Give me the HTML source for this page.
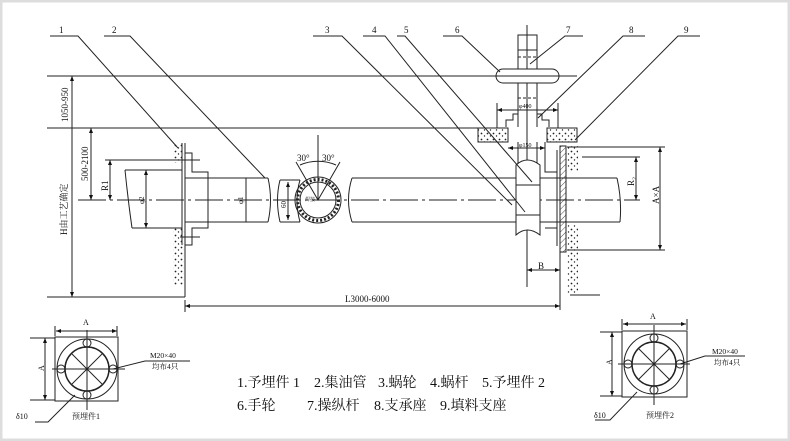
<!DOCTYPE html>
<html><head><meta charset="utf-8"><style>
html,body{margin:0;padding:0;background:#fff}
svg{display:block}
text{font-family:"Liberation Serif","Noto Serif CJK SC",serif;fill:#111}
</style></head><body>
<svg width="790" height="441" viewBox="0 0 790 441" xmlns="http://www.w3.org/2000/svg">
<defs>
<pattern id="dots" width="6" height="6" patternUnits="userSpaceOnUse"><circle cx="1.5" cy="1.5" r="0.9" fill="#222"/><circle cx="4.5" cy="4" r="0.7" fill="#222"/></pattern>
<pattern id="hat" width="4" height="4" patternUnits="userSpaceOnUse" patternTransform="rotate(45)"><line x1="0" y1="0" x2="0" y2="4" stroke="#222" stroke-width="0.8"/></pattern>
<marker id="a" markerWidth="6" markerHeight="6" refX="5" refY="3" orient="auto-start-reverse"><path d="M0,1 L5,3 L0,5z" fill="#111"/></marker>
</defs>
<rect x="1" y="1" width="788" height="439" fill="#fff" stroke="#ddd" stroke-width="3"/>
<g stroke="#222" stroke-width="1" fill="none">
<!-- horizontal references -->
<line x1="47" y1="76" x2="577" y2="76"/>
<line x1="47" y1="128" x2="478" y2="128"/>
<line x1="47" y1="297" x2="185" y2="297"/>
<line x1="78" y1="200" x2="640" y2="200" stroke-dasharray="28,4,3,4"/>
<!-- left dims -->
<line x1="72" y1="76" x2="72" y2="297" marker-start="url(#a)" marker-end="url(#a)"/>
<line x1="91" y1="128" x2="91" y2="200" marker-start="url(#a)" marker-end="url(#a)"/>
<line x1="110" y1="160" x2="110" y2="200" marker-start="url(#a)" marker-end="url(#a)"/>
<line x1="105" y1="160" x2="200" y2="160"/>
<line x1="180" y1="237" x2="200" y2="237"/>
<!-- left wall -->
<rect x="173" y="143" width="11" height="20" fill="url(#dots)" stroke="none"/>
<rect x="173" y="228" width="11" height="57" fill="url(#dots)" stroke="none"/>
<line x1="185" y1="143" x2="185" y2="297"/>
<line x1="182" y1="143" x2="182" y2="245"/>
<path d="M185,153 H192 V172 H208 V228 H192 V245 H185"/>
<!-- phi2 pipe -->
<path d="M125,170 H182 M132,228 H182 M125,170 Q128,200 132,228"/>
<line x1="146" y1="170" x2="146" y2="228" marker-start="url(#a)" marker-end="url(#a)"/>
<!-- phi1 pipe -->
<path d="M185,178 H268 M185,222 H268 M268,178 Q273,200 268,222"/>
<line x1="246" y1="178" x2="246" y2="222"/>
<path d="M280,180 H300 M280,222 H300 M280,180 Q275,200 280,222 M300,180 Q294,200 300,222"/>
<line x1="288" y1="182" x2="288" y2="220" marker-start="url(#a)" marker-end="url(#a)"/>
<!-- ring -->
<circle cx="318" cy="200" r="23"/>
<circle cx="318" cy="200" r="18"/>
<circle cx="318" cy="200" r="20.5" stroke-dasharray="2,2" stroke-width="3"/>
<path d="M296,162 L318,200 L340,162"/>
<line x1="318" y1="135" x2="318" y2="200"/>
<path d="M300,165 A45,45 0 0 1 336,165"/>
<!-- right pipe -->
<path d="M352,178 H617 M352,222 H620 M352,178 Q345,200 352,222 M617,178 Q622,200 620,222"/>
<!-- shaft and wheel -->
<line x1="527" y1="25" x2="527" y2="287"/>
<rect x="518" y="35" width="19" height="15"/>
<line x1="518" y1="50" x2="518" y2="127"/><line x1="537" y1="50" x2="537" y2="127"/>
<line x1="518" y1="57" x2="537" y2="57" stroke-dasharray="3,2"/>
<line x1="518" y1="98" x2="537" y2="98" stroke-dasharray="3,2"/>
<rect x="496" y="69" width="63" height="14" rx="7" fill="#fff"/>
<line x1="496" y1="76" x2="559" y2="76"/>
<line x1="497" y1="110" x2="558" y2="110" marker-start="url(#a)" marker-end="url(#a)"/>
<line x1="497" y1="103" x2="497" y2="128"/><line x1="558" y1="103" x2="558" y2="128"/>
<path d="M506,127 V120 H513 V114 H518 M549,127 V120 H542 V114 H537"/>
<rect x="478" y="128" width="30" height="14" fill="url(#dots)"/>
<rect x="547" y="128" width="30" height="14" fill="url(#dots)"/>
<line x1="518" y1="142" x2="518" y2="165"/><line x1="537" y1="142" x2="537" y2="165"/>
<line x1="508" y1="148" x2="545" y2="148" marker-start="url(#a)" marker-end="url(#a)"/>
<path d="M516,165 Q527,155 540,165 V235 Q527,225 516,235 Z" fill="#fff"/>
<line x1="516" y1="185" x2="540" y2="185"/><line x1="516" y1="215" x2="540" y2="215"/>
<!-- right wall -->
<path d="M545,142 V172 H557 M545,228 H557 V246"/>
<rect x="560" y="146" width="6" height="106" fill="url(#hat)"/>
<line x1="557" y1="150" x2="557" y2="246"/>
<rect x="567" y="146" width="11" height="25" fill="url(#dots)" stroke="none"/>
<rect x="567" y="225" width="11" height="70" fill="url(#dots)" stroke="none"/>
<line x1="560" y1="252" x2="560" y2="310"/>
<line x1="567" y1="147" x2="665" y2="147"/>
<line x1="582" y1="157" x2="640" y2="157"/>
<line x1="567" y1="250" x2="665" y2="250"/>
<line x1="570" y1="295" x2="600" y2="295"/>
<line x1="660" y1="147" x2="660" y2="250" marker-start="url(#a)" marker-end="url(#a)"/>
<line x1="636" y1="157" x2="636" y2="200" marker-start="url(#a)" marker-end="url(#a)"/>
<line x1="527" y1="270" x2="560" y2="270" marker-start="url(#a)" marker-end="url(#a)"/>
<line x1="185" y1="300" x2="185" y2="312"/>
<line x1="185" y1="306" x2="560" y2="306" marker-start="url(#a)" marker-end="url(#a)"/>
<!-- leaders -->
<path d="M50,36 H78 L178,148"/><path d="M104,36 H130 L265,178"/>
<path d="M313,36 H342 L512,205"/><path d="M363,36 H385 L525,212"/>
<path d="M397,36 H405 L532,182"/><path d="M443,36 H462 L500,72"/>
<path d="M583,36 H565 L530,64"/><path d="M645,36 H623 L538,118"/>
<path d="M700,36 H678 L575,140"/>
<!-- bottom plates -->
<rect x="55" y="337" width="63" height="64"/>
<circle cx="87" cy="369" r="30"/><circle cx="87" cy="369" r="22" stroke-width="1.5"/>
<circle cx="87" cy="343" r="4"/><circle cx="87" cy="395" r="4"/><circle cx="61" cy="369" r="4"/><circle cx="113" cy="369" r="4"/>
<line x1="87" y1="330" x2="87" y2="410"/><line x1="52" y1="369" x2="125" y2="369"/>
<line x1="72" y1="354" x2="102" y2="384"/><line x1="72" y1="384" x2="102" y2="354"/>
<line x1="56" y1="331" x2="117" y2="331" marker-start="url(#a)" marker-end="url(#a)"/>
<line x1="55" y1="326" x2="55" y2="336"/><line x1="117" y1="326" x2="117" y2="336"/>
<line x1="45" y1="338" x2="45" y2="400" marker-start="url(#a)" marker-end="url(#a)"/>
<line x1="30" y1="338" x2="55" y2="338"/><line x1="30" y1="400" x2="55" y2="400"/>
<path d="M113,369 L145,361 H190"/><path d="M35,422 H48 L75,395"/>
<rect x="622" y="331" width="65" height="66"/>
<circle cx="654" cy="364" r="30"/><circle cx="654" cy="364" r="22" stroke-width="1.5"/>
<circle cx="654" cy="338" r="4"/><circle cx="654" cy="390" r="4"/><circle cx="628" cy="364" r="4"/><circle cx="680" cy="364" r="4"/>
<line x1="654" y1="325" x2="654" y2="405"/><line x1="618" y1="364" x2="690" y2="364"/>
<line x1="639" y1="349" x2="669" y2="379"/><line x1="639" y1="379" x2="669" y2="349"/>
<line x1="623" y1="324" x2="686" y2="324" marker-start="url(#a)" marker-end="url(#a)"/>
<line x1="622" y1="319" x2="622" y2="330"/><line x1="687" y1="319" x2="687" y2="330"/>
<line x1="612" y1="332" x2="612" y2="396" marker-start="url(#a)" marker-end="url(#a)"/>
<line x1="600" y1="332" x2="622" y2="332"/><line x1="600" y1="396" x2="622" y2="396"/>
<path d="M680,364 L705,356 H745"/><path d="M595,420 H610 L637,392"/>
</g>
<g font-size="9">
<text x="59" y="33">1</text><text x="112" y="33">2</text><text x="325" y="33">3</text><text x="372" y="33">4</text>
<text x="404" y="33">5</text><text x="455" y="33">6</text><text x="566" y="33">7</text><text x="629" y="33">8</text><text x="684" y="33">9</text>
<text transform="translate(68,122) rotate(-90)">1050-950</text>
<text transform="translate(67,235) rotate(-90)" font-size="9">H由工艺确定</text>
<text transform="translate(88,181) rotate(-90)">500-2100</text>
<text transform="translate(108,191) rotate(-90)">R1</text>
<text transform="translate(144,204) rotate(-90)" font-size="7">φ2</text>
<text transform="translate(243,204) rotate(-90)" font-size="7">φ1</text>
<text transform="translate(286,208) rotate(-90)" font-size="7">60</text>
<text x="297" y="161">30°</text><text x="322" y="161">30°</text>
<text x="305" y="201" font-size="5">焊接</text>
<text x="519" y="108" font-size="6">φ400</text>
<text x="519" y="147" font-size="6">φ150</text>
<text transform="translate(634,186) rotate(-90)">R₂</text>
<text transform="translate(659,204) rotate(-90)">A×A</text>
<text x="538" y="269">B</text>
<text x="345" y="302">L3000-6000</text>
<text x="83" y="325" font-size="8">A</text><text x="41" y="374" font-size="8" transform="rotate(-90 41 371)">A</text>
<text x="150" y="358" font-size="7.5">M20×40</text><text x="152" y="369" font-size="7.5">均布4只</text>
<text x="16" y="419" font-size="8">δ10</text><text x="72" y="419" font-size="8">预埋件1</text>
<text x="650" y="319" font-size="8">A</text><text x="609" y="368" font-size="8" transform="rotate(-90 609 365)">A</text>
<text x="712" y="354" font-size="7.5">M20×40</text><text x="714" y="365" font-size="7.5">均布4只</text>
<text x="594" y="418" font-size="8">δ10</text><text x="646" y="418" font-size="8">预埋件2</text>
</g>
<g font-size="14">
<text x="237" y="387">1.予埋件 1</text><text x="314" y="387">2.集油管</text><text x="378" y="387">3.蜗轮</text>
<text x="430" y="387">4.蜗杆</text><text x="482" y="387">5.予埋件 2</text>
<text x="237" y="410">6.手轮</text><text x="307" y="410">7.操纵杆</text><text x="374" y="410">8.支承座</text><text x="440" y="410">9.填料支座</text>
</g>
</svg>
</body></html>
